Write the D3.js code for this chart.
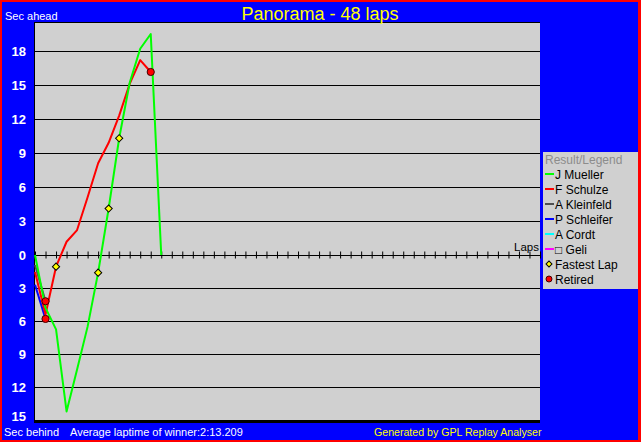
<!DOCTYPE html>
<html>
<head>
<meta charset="utf-8">
<script src="https://cdn.jsdelivr.net/npm/d3@7"></script>
<style>
  html, body { margin: 0; padding: 0; background: #ff0000; }
  svg { display: block; }
  text { font-family: "Liberation Sans", Arial, sans-serif; }
</style>
</head>
<body>
<svg id="chart" width="641" height="442"></svg>
<script>
// ---------- DATA ----------
const title = "Panorama - 48 laps";
const totalLaps = 48;
const yTickValues = [-15, -12, -9, -6, -3, 0, 3, 6, 9, 12, 15, 18];
const drivers = ["J Mueller", "F Schulze", "A Kleinfeld", "P Schleifer", "A Cordt", "\u25A1 Geli"];
// seconds ahead (+) / behind (-) per lap, starting at lap 0
const muellerGaps   = [0, -4.8, -6.75, -14.2, -10.4, -6.5, -1.6, 4.1, 10.3, 15.2, 18.2, 19.5, 0];
const schulzeGaps   = [-1.55, -5.4, -1.06, 1.17, 2.2, 5.1, 8.1, 9.9, 12.3, 15.1, 17.2, 16.15];
const kleinfeldGaps = [-0.9, -4.2];
const schleiferGaps = [-2.7, -5.8];
const cordtGaps     = [];
const geliGaps      = [];
const fastestLapDriver = ["F Schulze", "J Mueller", "J Mueller", "J Mueller"];
const fastestLapLap    = [2, 6, 7, 8];
const retiredDriver = ["A Kleinfeld", "P Schleifer", "F Schulze"];
const retiredLap    = [1, 1, 11];
const avgLaptime = "2:13.209";

// ---------- STYLE ----------
const driverColors = ["#00ff00", "#ff0000", "#505050", "#0000ff", "#00ffff", "#ff00ff"];
const gapsByDriver = [muellerGaps, schulzeGaps, kleinfeldGaps, schleiferGaps, cordtGaps, geliGaps];

const svg = d3.select("#chart");
const W = 641, H = 442;
const plot = { left: 35, right: 540, top: 22, bottom: 422 };

// background
svg.append("rect").attr("x", 0).attr("y", 0).attr("width", W).attr("height", H).attr("fill", "#ff0000");
svg.append("rect").attr("x", 2).attr("y", 2).attr("width", W - 5).attr("height", H - 4).attr("fill", "#0000ff");

// plot area
svg.append("rect")
  .attr("x", plot.left).attr("y", plot.top)
  .attr("width", plot.right - plot.left).attr("height", plot.bottom - plot.top)
  .attr("fill", "#d0d0d0");

const x = d3.scaleLinear().domain([0, totalLaps]).range([plot.left, plot.right]);
const y = d3.scaleLinear().domain([-15, 0, 20.56]).range([420.3, 255, plot.top]);

// gridlines
const grid = svg.append("g");
grid.selectAll("line").data(yTickValues.filter(v => v !== 0)).join("line")
  .attr("x1", plot.left).attr("x2", plot.right)
  .attr("y1", d => Math.round(y(d)) + 0.5).attr("y2", d => Math.round(y(d)) + 0.5)
  .attr("stroke", "#000").attr("stroke-width", 1);

// plot borders
svg.append("line").attr("x1", plot.left).attr("x2", plot.right).attr("y1", plot.top + 0.5).attr("y2", plot.top + 0.5).attr("stroke", "#000");
svg.append("line").attr("x1", plot.left).attr("x2", plot.right).attr("y1", plot.bottom).attr("y2", plot.bottom).attr("stroke", "#000").attr("stroke-width", 2);
svg.append("line").attr("x1", plot.left - 0.5).attr("x2", plot.left - 0.5).attr("y1", plot.top).attr("y2", plot.bottom + 1).attr("stroke", "#000");

// x axis (zero line with lap ticks)
const xAxis = d3.axisBottom(x).tickValues(d3.range(0, totalLaps + 1)).tickSize(3).tickFormat("");
const xg = svg.append("g").attr("transform", `translate(0,${y(0) + 0.5})`).call(xAxis);
xg.select(".domain").attr("stroke", "#000").attr("d", `M${plot.left},0H${plot.right}`);
xg.selectAll(".tick line").attr("y1", -4).attr("y2", 3).attr("stroke", "#000");
svg.append("text").attr("x", 539).attr("y", 251).attr("text-anchor", "end")
  .attr("font-size", 11.5).attr("fill", "#000").text("Laps");

// y axis labels
const yAxis = d3.axisLeft(y).tickValues(yTickValues).tickSize(0).tickFormat(d => Math.abs(d));
const yg = svg.append("g").attr("transform", `translate(${26},0)`).call(yAxis);
yg.select(".domain").remove();
yg.selectAll(".tick text").attr("x", 0).attr("fill", "#fff").attr("font-size", 13)
  .attr("font-weight", "bold").attr("font-family", "Liberation Sans, Arial, sans-serif")
  .attr("dy", d => d === -15 ? "0.05em" : "0.35em");

// lines
const line = d3.line().x((d, i) => x(i)).y(d => y(d));
const linesG = svg.append("g");
for (let k = drivers.length - 1; k >= 0; k--) {
  const data = gapsByDriver[k];
  if (data.length < 2) continue;
  linesG.append("path").datum(data).attr("d", line)
    .attr("fill", "none").attr("stroke", driverColors[k]).attr("stroke-width", 2)
    .attr("stroke-linejoin", "round");
}

// markers
const diamond = d3.symbol(d3.symbolSquare).size(26);
const markG = svg.append("g");
fastestLapLap.forEach((lap, i) => {
  const k = drivers.indexOf(fastestLapDriver[i]);
  const v = gapsByDriver[k][lap];
  markG.append("path").attr("d", diamond)
    .attr("transform", `translate(${x(lap)},${y(v)}) rotate(45)`)
    .attr("fill", "#ffff00").attr("stroke", "#000").attr("stroke-width", 1);
});
retiredLap.forEach((lap, i) => {
  const k = drivers.indexOf(retiredDriver[i]);
  const v = gapsByDriver[k][lap];
  markG.append("circle").attr("cx", x(lap)).attr("cy", y(v)).attr("r", 3.6)
    .attr("fill", "#ff0000").attr("stroke", "#400000").attr("stroke-width", 1);
});

// legend
const lg = svg.append("g");
lg.append("rect").attr("x", 543).attr("y", 152).attr("width", 95).attr("height", 137).attr("fill", "#d0d0d0");
lg.append("text").attr("x", 545).attr("y", 163.5).attr("font-size", 12).attr("fill", "#8c8c8c").text("Result/Legend");
drivers.forEach((name, i) => {
  const cy = 174 + i * 15;
  lg.append("line").attr("x1", 545).attr("x2", 554).attr("y1", cy).attr("y2", cy)
    .attr("stroke", driverColors[i]).attr("stroke-width", 2);
  lg.append("text").attr("x", 555).attr("y", cy + 4.5).attr("font-size", 12).attr("fill", "#000").text(name);
});
const fy = 174 + drivers.length * 15;
lg.append("path").attr("d", d3.symbol(d3.symbolSquare).size(18))
  .attr("transform", `translate(549,${fy}) rotate(45)`)
  .attr("fill", "#ffff00").attr("stroke", "#000").attr("stroke-width", 1);
lg.append("text").attr("x", 555).attr("y", fy + 4.5).attr("font-size", 12).attr("fill", "#000").text("Fastest Lap");
lg.append("circle").attr("cx", 549).attr("cy", fy + 15).attr("r", 3)
  .attr("fill", "#ff0000").attr("stroke", "#400000").attr("stroke-width", 1);
lg.append("text").attr("x", 555).attr("y", fy + 19.5).attr("font-size", 12).attr("fill", "#000").text("Retired");

// texts
svg.append("text").attr("x", 320).attr("y", 20).attr("text-anchor", "middle")
  .attr("font-size", 18).attr("fill", "#ffff00").text(title);
svg.append("text").attr("x", 5).attr("y", 20).attr("font-size", 11).attr("fill", "#fff").text("Sec ahead");
svg.append("text").attr("x", 4).attr("y", 436).attr("font-size", 11).attr("fill", "#fff").text("Sec behind");
svg.append("text").attr("x", 70).attr("y", 436).attr("font-size", 11).attr("fill", "#fff")
  .text("Average laptime of winner:" + avgLaptime);
svg.append("text").attr("x", 374).attr("y", 436).attr("font-size", 10.6)
  .attr("fill", "#ffff00").text("Generated by GPL Replay Analyser");
</script>
</body>
</html>
